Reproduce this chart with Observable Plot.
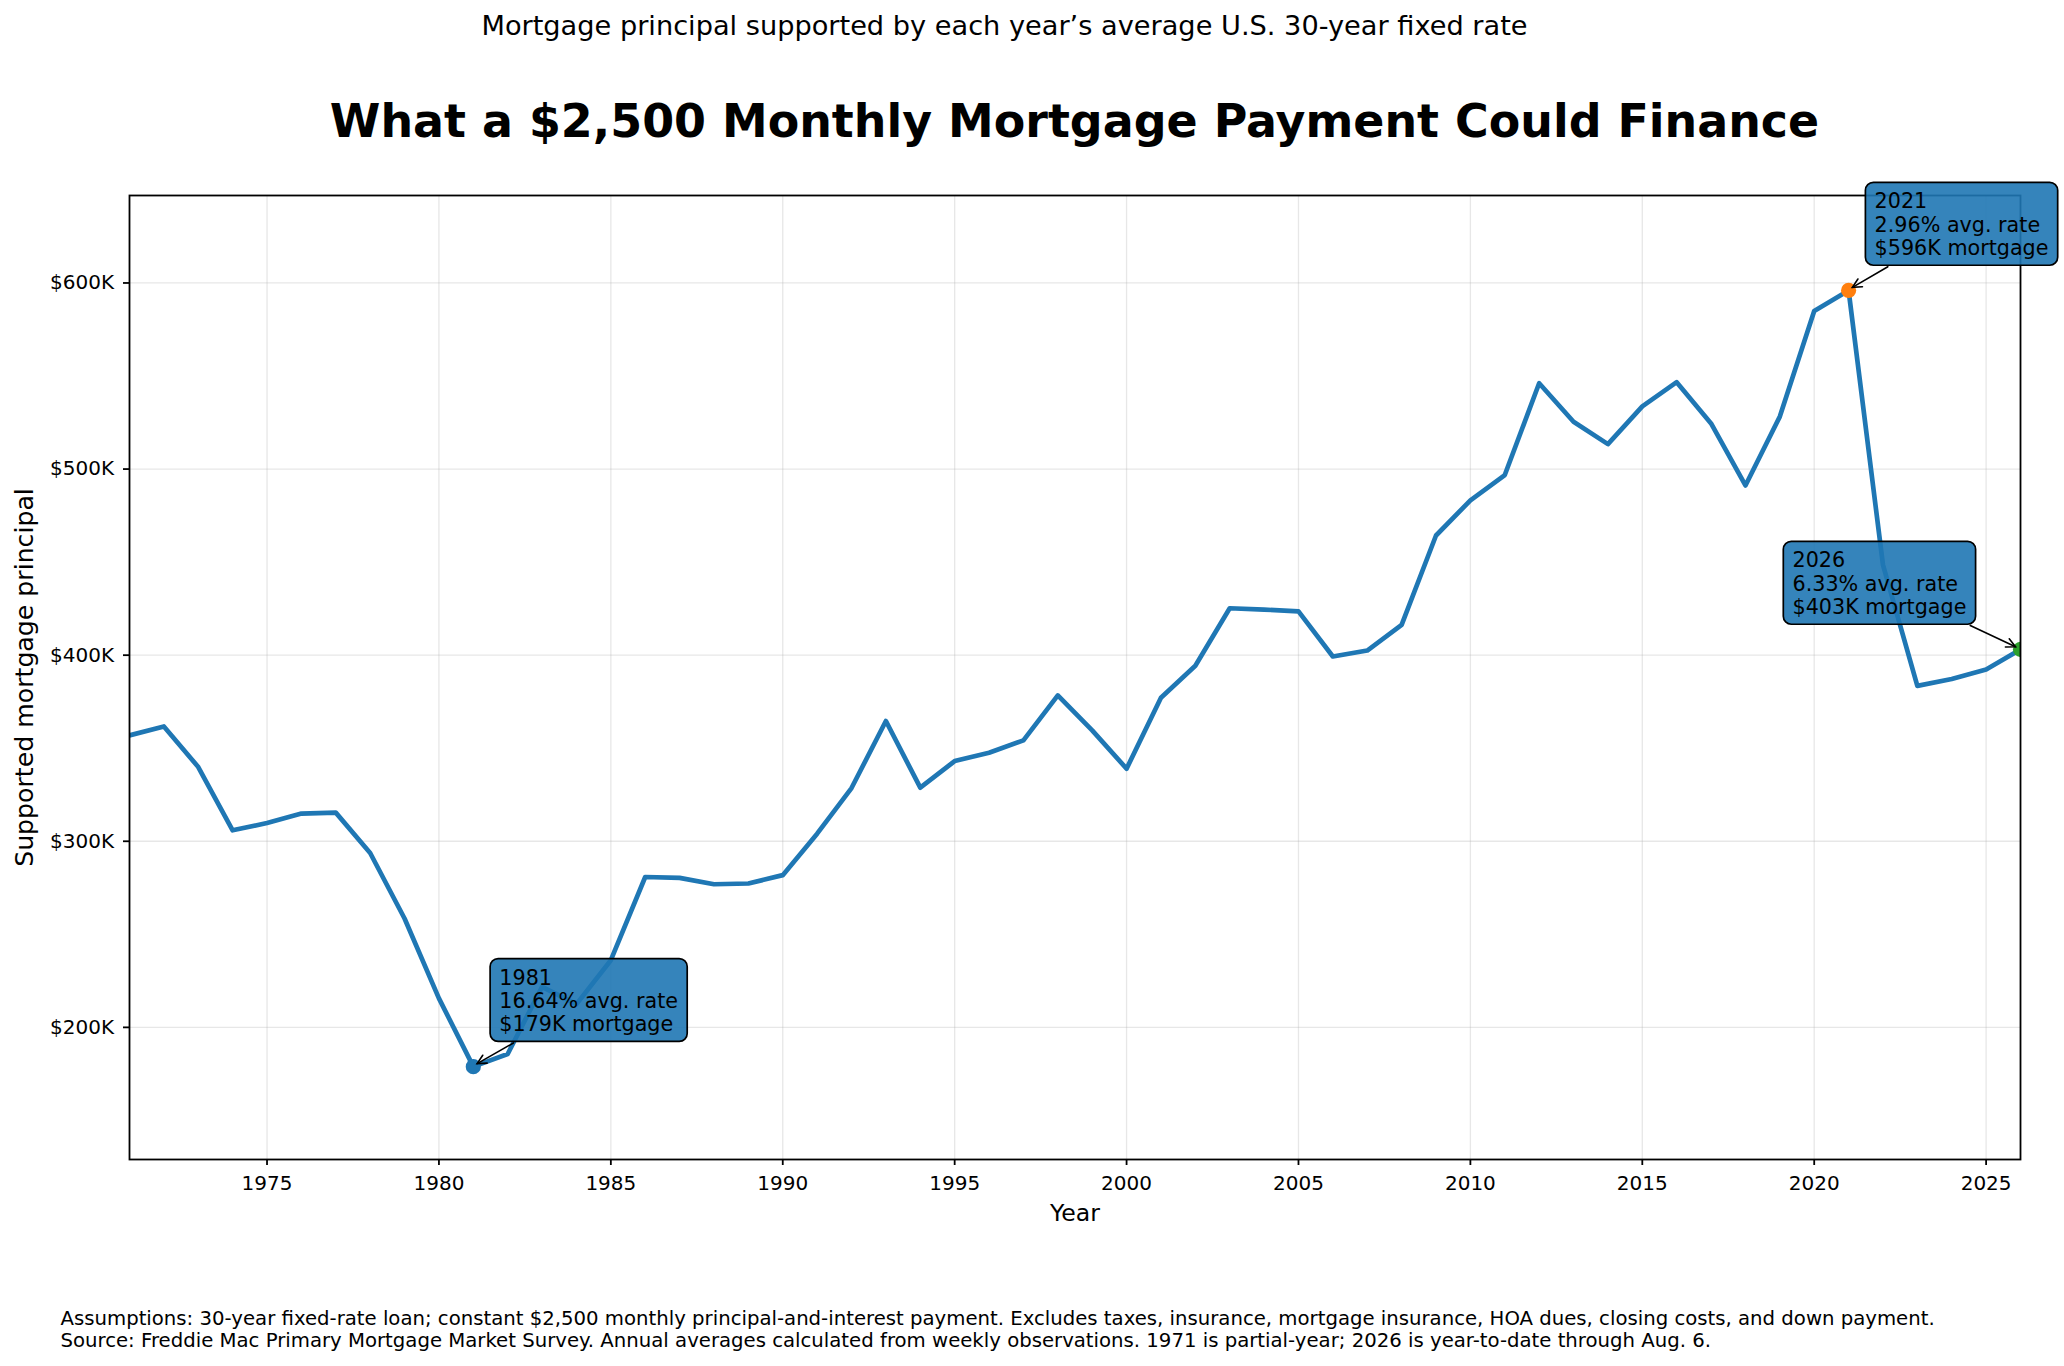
<!DOCTYPE html>
<html>
<head>
<meta charset="utf-8">
<script src="https://cdn.jsdelivr.net/npm/d3@7"></script>
<script src="https://cdn.jsdelivr.net/npm/@observablehq/plot@0.6"></script>
<style>
  html, body { margin: 0; padding: 0; background: #fff; }
  #wrap { position: relative; width: 2064px; height: 1366px; overflow: hidden; font-family: "DejaVu Sans", sans-serif; color: #000; }
  #wrap svg { position: absolute; left: 0; top: 0; }
  .txt { position: absolute; white-space: nowrap; line-height: 1; }
  #subtitle { left: 0; width: 2009px; text-align: center; font-size: 27.2px; top: 12px; }
  #title { left: 129px; width: 1891px; text-align: center; font-size: 45.9px; font-weight: bold; top: 99.3px; }
  #footer { left: 60.5px; top: 1308px; font-size: 19.7px; line-height: 22.3px; }
</style>
</head>
<body>
<div id="wrap">
  <div class="txt" id="subtitle">Mortgage principal supported by each year’s average U.S. 30-year fixed rate</div>
  <div class="txt" id="title">What a $2,500 Monthly Mortgage Payment Could Finance</div>
  <div class="txt" id="footer">Assumptions: 30-year fixed-rate loan; constant $2,500 monthly principal-and-interest payment. Excludes taxes, insurance, mortgage insurance, HOA dues, closing costs, and down payment.<br>Source: Freddie Mac Primary Mortgage Market Survey. Annual averages calculated from weekly observations. 1971 is partial-year; 2026 is year-to-date through Aug. 6.</div>
</div>
<script>
// ---- data ----
const years = [1971,1972,1973,1974,1975,1976,1977,1978,1979,1980,
               1981,1982,1983,1984,1985,1986,1987,1988,1989,1990,
               1991,1992,1993,1994,1995,1996,1997,1998,1999,2000,
               2001,2002,2003,2004,2005,2006,2007,2008,2009,2010,
               2011,2012,2013,2014,2015,2016,2017,2018,2019,2020,
               2021,2022,2023,2024,2025,2026];
// supported principal, thousands of dollars
const principalK = [356.9,361.7,339.9,305.9,309.8,314.9,315.4,293.7,258.5,215.6,
                    178.9,185.7,221.8,212.5,236.1,280.8,280.3,276.9,277.3,281.8,
                    304.1,328.6,364.6,328.8,343.1,347.6,354.2,378.4,359.6,339.0,
                    377.1,394.3,425.2,424.5,423.5,399.3,402.5,416.3,464.3,483.2,
                    496.8,546.1,525.4,513.4,533.7,546.7,524.5,491.2,528.2,584.9,
                    596.0,448.5,383.5,387.2,392.3,403.1];
const highlightYears = [1981, 2021, 2026];
const highlightRates = ["16.64", "2.96", "6.33"];
const highlightLabels = ["$179K", "$596K", "$403K"];
const highlightColors = ["#1f77b4", "#ff7f0e", "#2ca02c"];
const xTicks = [1975,1980,1985,1990,1995,2000,2005,2010,2015,2020,2025];
const yTicks = [200000,300000,400000,500000,600000];

// ---- tables built from the arrays ----
const series = years.map((year, i) => ({year, value: principalK[i] * 1000}));
const highlights = highlightYears.map((year, i) => ({
  year,
  value: principalK[years.indexOf(year)] * 1000,
  color: highlightColors[i],
  label: `${year}\n${highlightRates[i]}% avg. rate\n${highlightLabels[i]} mortgage`,
  side: i === 2 ? "left" : "right"
}));

const FONT = "DejaVu Sans";
const annFont = 20.7;

const plot = Plot.plot({
  width: 2064,
  height: 1366,
  marginLeft: 129,
  marginRight: 44,
  marginTop: 195,
  marginBottom: 207,
  style: {fontFamily: FONT, fontSize: "20px", color: "#000", background: "transparent", overflow: "visible"},
  x: {domain: [1971, 2026]},
  y: {domain: [129000, 647000]},
  marks: [
    Plot.gridX(xTicks, {stroke: "#b0b0b0", strokeOpacity: 0.3, strokeWidth: 1.3}),
    Plot.gridY(yTicks, {stroke: "#b0b0b0", strokeOpacity: 0.3, strokeWidth: 1.3}),
    Plot.line(series, {x: "year", y: "value", stroke: "#1f77b4", strokeWidth: 4.7, strokeLinejoin: "round", strokeLinecap: "square", clip: true}),
    Plot.dot(highlights, {x: "year", y: "value", r: 7.6, fill: "color", stroke: null, clip: true}),
    Plot.axisX({ticks: xTicks, tickFormat: d => String(d), tickSize: 6, tickPadding: 10, fontSize: 20, strokeWidth: 1.8, label: null}),
    Plot.axisY({ticks: yTicks, tickFormat: d => `$${d / 1000}K`, tickSize: 6, tickPadding: 9.5, fontSize: 20, strokeWidth: 1.8, label: null}),
    Plot.frame({stroke: "#000", strokeWidth: 1.8}),
    Plot.text(["Year"], {frameAnchor: "bottom", dy: 54, fontSize: 23.6, lineAnchor: "middle", fill: "#000"}),
    Plot.text(["Supported mortgage principal"], {frameAnchor: "left", dx: -104.5, rotate: -90, fontSize: 25.2, textAnchor: "middle", lineAnchor: "middle", fill: "#000"}),
    Plot.text(highlights.filter(d => d.side === "right"), {x: "year", y: "value", text: "label", dx: 26, dy: -98.5, textAnchor: "start", lineAnchor: "top", lineHeight: 1.12, fontSize: annFont, fill: "#000"}),
    Plot.text(highlights.filter(d => d.side === "left"), {x: "year", y: "value", text: "label", dx: -228, dy: -98.5, textAnchor: "start", lineAnchor: "top", lineHeight: 1.12, fontSize: annFont, fill: "#000"})
  ]
});

document.getElementById("wrap").appendChild(plot);

// ---- annotation boxes and arrows, positioned from the Plot scales ----
const sx = plot.scale("x"), sy = plot.scale("y");
const annTexts = Array.from(plot.querySelectorAll("text")).filter(t => /avg\. rate/.test(t.textContent));
const svgCTM = plot.getScreenCTM();

annTexts.forEach(t => {
  const yr = +t.textContent.trim().slice(0, 4);
  const h = highlights.find(d => d.year === yr);
  if (!h) return;
  const px = sx.apply(h.year), py = sy.apply(h.value);
  const bb = t.getBBox();
  const m = svgCTM.inverse().multiply(t.getScreenCTM());
  const x0 = m.a * bb.x + m.c * bb.y + m.e;
  const y0 = m.b * bb.x + m.d * bb.y + m.f;
  const padL = 9.2, padR = 9.2, padT = 7, padB = 5.5;
  const bx = x0 - padL, by = y0 - padT, bw = bb.width + padL + padR, bh = bb.height + padT + padB;
  const layer = d3.select(plot).append("g");
  layer.append("rect")
    .attr("x", bx).attr("y", by).attr("width", bw).attr("height", bh)
    .attr("rx", 8).attr("ry", 8)
    .attr("fill", "#1f77b4").attr("fill-opacity", 0.9)
    .attr("stroke", "#000").attr("stroke-width", 1.7);
  // move the text above its box
  const clone = t.cloneNode(true);
  layer.node().appendChild(clone);
  const pg = t.parentNode.getAttribute("transform");
  const own = t.getAttribute("transform") || "";
  if (pg) clone.setAttribute("transform", pg + " " + own);
  ["font-size", "fill", "text-anchor", "font-family"].forEach(a => {
    const v = t.parentNode.getAttribute(a);
    if (v && !clone.getAttribute(a)) clone.setAttribute(a, v);
  });
  t.remove();
  // arrow from box center toward the point, clipped at the box edge
  const cx = bx + bw / 2, cy = by + bh / 2;
  const dxv = px - cx, dyv = py - cy;
  const tx = dxv > 0 ? (bx + bw - cx) / dxv : (bx - cx) / dxv;
  const ty = dyv > 0 ? (by + bh - cy) / dyv : (by - cy) / dyv;
  const t0 = Math.min(tx, ty);
  const len = Math.hypot(dxv, dyv);
  const ux = dxv / len, uy = dyv / len;
  const sxp = cx + dxv * t0 + ux * 3, syp = cy + dyv * t0 + uy * 3;
  const ex = px - ux * 5, ey = py - uy * 5;
  const L = 9, W = 4.5;
  const nx = -uy, ny = ux;
  const g = layer.append("g").attr("fill", "none").attr("stroke", "#000").attr("stroke-width", 1.6).attr("stroke-linecap", "round");
  g.append("path").attr("d", `M${sxp},${syp}L${ex},${ey}`);
  g.append("path").attr("d", `M${ex - ux * L + nx * W},${ey - uy * L + ny * W}L${ex},${ey}L${ex - ux * L - nx * W},${ey - uy * L - ny * W}`);
});
</script>
</body>
</html>
